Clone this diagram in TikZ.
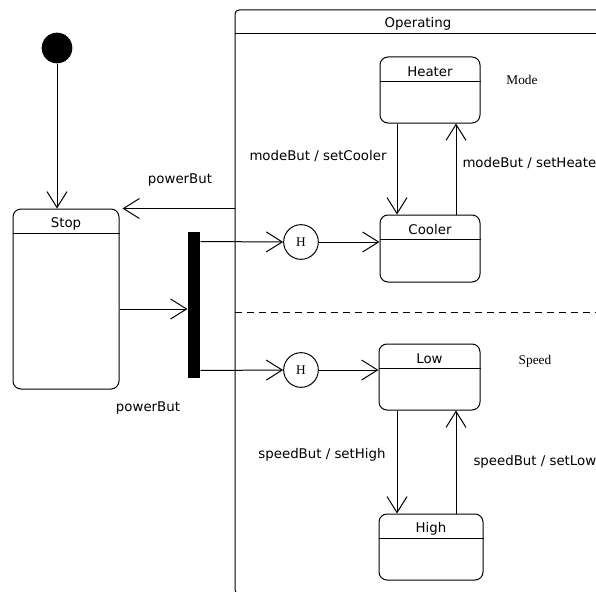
\documentclass[tikz,border=0pt]{standalone}
\usepackage{fontspec}
\setmainfont{DejaVu Sans}
\newfontfamily\seriffam{Liberation Serif}
\usetikzlibrary{arrows.meta,calc}
\begin{document}
\begin{tikzpicture}[x=0.75pt,y=-0.75pt,line width=0.75pt,
  every node/.style={font=\fontsize{10}{12}\selectfont},
  arr/.style={-{Straight Barb[length=12pt,width=15pt,line width=0.75pt]}},
  statebox/.style={draw,rounded corners=6pt,inner sep=0pt},
  hist/.style={draw,circle,minimum size=26pt,inner sep=0pt,font=\seriffam\fontsize{10}{12}\selectfont},
  lbl/.style={inner sep=0pt},
  serlbl/.style={inner sep=0pt,font=\seriffam\fontsize{10}{12}\selectfont}]
\useasboundingbox (0,0) rectangle (596,592);
\fill[white] (0,0) rectangle (596,592);

% Operating composite state
\node[draw,rounded corners=3pt,inner sep=0pt,minimum width=288.75pt,minimum height=438pt] (op) at (427.5,302) {};
\draw ($(op.north west)+(0,24)$) -- ($(op.north east)+(0,24)$);
\node[lbl] (opT) at (418,24) {Operating};
\draw[dash pattern=on 5.25pt off 3.75pt] ($(op.west)+(0,10)$) -- ($(op.east)+(0,10)$);

% states
\node[statebox,minimum width=79.5pt,minimum height=135pt] (stop) at (66,299) {};
\node[statebox,minimum width=75pt,minimum height=49.5pt] (heater) at (430,90) {};
\node[statebox,minimum width=75pt,minimum height=50.25pt] (cooler) at (430,248.5) {};
\node[statebox,minimum width=75.75pt,minimum height=49.5pt] (low) at (429.5,377) {};
\node[statebox,minimum width=78pt,minimum height=49.5pt] (high) at (431,547) {};
\foreach \s/\t in {stop/Stop,heater/Heater,cooler/Cooler,low/Low,high/High}{
  \draw ($(\s.north west)+(0,25)$) -- ($(\s.north east)+(0,25)$);
  \node[lbl] (\s T) at ($(\s.north)+(0,15)$) {\t};
}

% initial, fork, history
\node[circle,fill=black,minimum size=23pt,inner sep=0pt] (init) at (57,48) {};
\node[fill=black,minimum width=9pt,minimum height=109.5pt,inner sep=0pt] (fork) at (194,305) {};
\node[hist] (h1) at (301,242) {H};
\node[hist] (h2) at (301,370) {H};

\coordinate (xa) at (397,0);
\coordinate (xb) at (456,0);

% transitions
\draw[arr] (init) -- (init |- stop.north);
\draw[arr] (op.west |- stop.north) -- ($(stop.north east)+(3,0)$);
\draw[arr] ($(stop.east)+(0,10)$) -- ($(fork.west)+(0,4)$);
\draw[arr] ($(fork.north east)+(0,10)$) -- (h1.west);
\draw[arr] ($(fork.south east)+(0,-8)$) -- (h2.west);
\draw[arr] (h1.east) -- (h1.east -| cooler.west);
\draw[arr] (h2.east) -- (h2.east -| low.west);
\draw[arr] (heater.south -| xa) -- (cooler.north -| xa);
\draw[arr] (cooler.north -| xb) -- (heater.south -| xb);
\draw[arr] (low.south -| xa) -- (high.north -| xa);
\draw[arr] (high.north -| xb) -- (low.south -| xb);

% labels
\node[lbl] (l1) at (180,180) {powerBut};
\node[lbl] (l2) at (148,408) {powerBut};
\node[lbl] (l3) at (318,156) {modeBut / setCooler};
\node[lbl,anchor=west] (l4) at (462,163) {modeBut / setHeater};
\node[lbl] (l5) at (322,455) {speedBut / setHigh};
\node[lbl,anchor=west] (l6) at (473,462) {speedBut / setLow};
\node[serlbl] (mode) at (522,80) {Mode};
\node[serlbl] (speed) at (535,361) {Speed};
\end{tikzpicture}
\end{document}
